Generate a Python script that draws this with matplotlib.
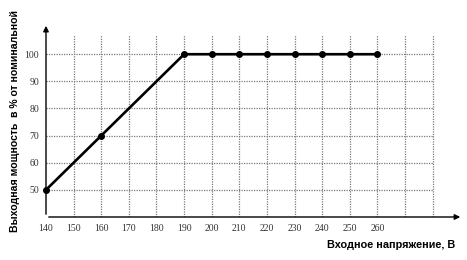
import matplotlib
matplotlib.use("Agg")
import matplotlib.pyplot as plt

# входное напряжение, В / выходная мощность, %
napr = [140, 160, 190, 200, 210, 220, 230, 240, 250, 260]
moshch = [50, 70, 100, 100, 100, 100, 100, 100, 100, 100]

x_ticks = [140, 150, 160, 170, 180, 190, 200, 210, 220, 230, 240, 250, 260]
y_ticks = [50, 60, 70, 80, 90, 100]
x_grid = list(range(150, 290, 10))

fig = plt.figure(figsize=(4.67, 2.6), dpi=100)
ax = fig.add_axes([0.0985, 0.1654, 0.893, 0.746])
ax.set_xlim(140, 291)
ax.set_ylim(40, 111.5)

for s in ax.spines.values():
    s.set_visible(False)

# сетка
ax.vlines(x_grid, 40, 107.2, colors='#7a7a7a', linestyles=(0, (1, 1)), linewidth=0.9)
ax.hlines(y_ticks, 140, 280, colors='#7a7a7a', linestyles=(0, (1, 1)), linewidth=0.9)

# оси со стрелками
ax.annotate('', xy=(291, 40), xytext=(140, 40),
            arrowprops=dict(arrowstyle='-|>', color='black', lw=1.0, mutation_scale=8),
            annotation_clip=False)
ax.annotate('', xy=(140, 111.5), xytext=(140, 40),
            arrowprops=dict(arrowstyle='-|>', color='black', lw=1.0, mutation_scale=8),
            annotation_clip=False)

ax.plot(napr, moshch, color='black', linewidth=1.9, marker='o', markersize=4,
        clip_on=False, zorder=5)

ax.set_xticks(x_ticks)
ax.set_yticks(y_ticks)
ax.tick_params(length=0, labelsize=6.5, labelcolor='#333333', pad=5)
for lbl in ax.get_xticklabels() + ax.get_yticklabels():
    lbl.set_family('Liberation Serif')
    lbl.set_fontsize(7)

fig.text(0.032, 0.535, 'Выходная мощность  в % от номинальной', rotation=90,
         ha='center', va='center', fontsize=7.6, fontweight='bold',
         family='Liberation Sans')
fig.text(0.975, 0.058, 'Входное напряжение, В', ha='right', va='center',
         fontsize=7.8, fontweight='bold', family='Liberation Sans')

plt.savefig('out.png', dpi=100)
plt.close()
